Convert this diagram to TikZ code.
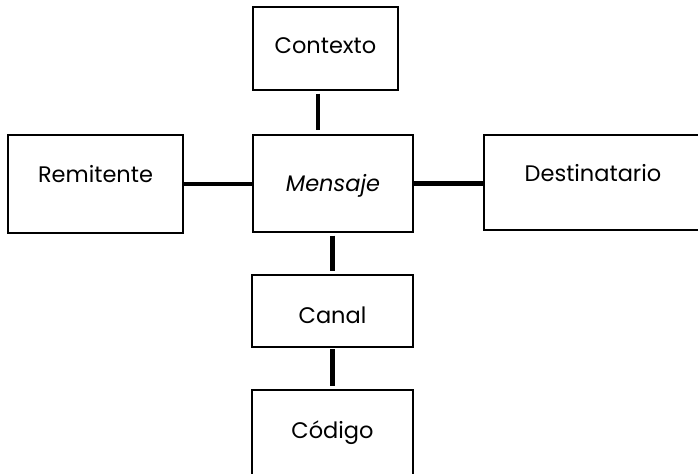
\documentclass[tikz,border=0pt]{standalone}
\usepackage{fontspec}
\setmainfont{Poppins}

\begin{document}
\begin{tikzpicture}[
  box/.style={draw=black,line width=1.3pt,rectangle,inner sep=0pt,
    font=\fontsize{16}{19}\selectfont,text height=11.5pt,text depth=0pt},
  link/.style={draw=black,line width=3pt}
]

% Fix the page to the size of the original sheet
\useasboundingbox (0,0) rectangle (17.45,11.825);

% The central column of boxes
\node[box,minimum width=3.625cm,minimum height=2.075cm,text depth=5pt] (ctx) at (8.1375,10.6125) {Contexto};
\node[box,minimum width=4cm,minimum height=2.425cm,font=\fontsize{16}{19}\selectfont\itshape] (msg) at (8.325,7.2375) {Mensaje};
\node[box,minimum width=4.025cm,minimum height=1.8cm,text height=17.5pt] (can) at (8.3125,4.05) {Canal};
\node[box,minimum width=4.025cm,minimum height=2.15cm,text depth=3.5pt] (cod) at (8.3125,1.0) {Código};

% The boxes to the left and right of the message
\node[box,minimum width=4.375cm,minimum height=2.45cm,text depth=13pt] (rem) at (2.3875,7.225) {Remitente};
\node[box,minimum width=5.45cm,minimum height=2.375cm,text depth=13pt] (dst) at (14.825,7.2625) {Destinatario};

% The thick links between the boxes
\draw[link,shorten <=2pt,shorten >=3pt] ([xshift=-0.19cm]ctx.south) -- ([xshift=-0.19cm]ctx.south |- msg.north);
\draw[link] (rem.east) -- (rem.east -| msg.west);
\draw[link] (msg.east) -- (msg.east -| dst.west);
\draw[link,shorten <=2pt,shorten >=2pt] (can.north |- msg.south) -- (can.north);
\draw[link,shorten <=1pt,shorten >=2pt] (can.south) -- (cod.north);

\end{tikzpicture}
\end{document}
